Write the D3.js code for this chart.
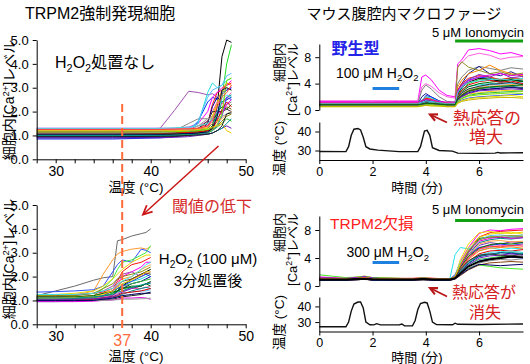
<!DOCTYPE html>
<html><head><meta charset="utf-8">
<script src="https://cdn.jsdelivr.net/npm/d3@7"></script>
<style>body{margin:0;background:#fff}svg{display:block}</style>
</head><body><svg id="c" width="530" height="364"></svg>
<script>
// ---------- DATA ----------
// Panel A: TRPM2 over-expressing cells, no H2O2 (temperature °C vs Ca level)
const tempTicks = [28,30,32,34,36,38,40,42,44,46,48,50];
const tempLabels = [30,40,50];
const noH2O2Temps = [28,36,41,42.5,44,45,46,46.5,47,47.5,48,48.5];
const noH2O2Traces = [
 [1.00,1.00,1.02,1.03,1.05,1.10,1.20,1.40,2.20,4.30,5.00,4.90],
 [1.15,1.15,1.15,1.16,1.18,1.20,1.30,1.50,1.90,2.60,4.00,4.80],
 [1.20,1.20,1.30,2.05,2.85,2.80,2.70,2.75,2.60,2.70,2.90,3.00],
 [0.85,0.85,0.90,0.95,1.05,1.60,2.40,2.60,2.50,2.80,2.90,3.00],
 [1.20,1.20,1.20,1.22,1.25,1.30,1.50,2.30,2.80,2.90,3.10,3.20],
 [1.30,1.30,1.30,1.30,1.35,1.50,2.00,2.60,2.80,3.00,3.10,3.30],
 [1.25,1.25,1.27,1.28,1.30,1.50,2.80,3.20,3.00,3.10,3.30,3.40],
 [1.10,1.10,1.10,1.12,1.15,1.20,1.30,1.80,2.40,2.90,3.20,3.10],
 [1.00,1.05,1.10,1.20,1.50,1.70,1.70,1.80,2.00,2.20,2.30,2.40],
 [0.90,0.90,0.92,0.95,1.00,1.10,1.50,2.20,2.60,2.40,2.50,2.60],
 [1.05,1.05,1.05,1.06,1.10,1.15,1.20,1.40,2.00,2.20,2.10,2.30],
 [1.20,1.20,1.20,1.20,1.20,1.25,1.40,1.80,2.30,2.80,3.00,2.90],
 [1.10,1.10,1.10,1.12,1.15,1.20,1.30,1.50,1.80,2.40,2.60,2.70],
 [1.28,1.28,1.28,1.30,1.30,1.40,1.60,2.00,2.40,2.30,2.60,2.80],
 [0.95,0.95,0.96,0.98,1.00,1.05,1.10,1.30,1.70,2.00,2.20,2.10],
 [1.15,1.15,1.15,1.15,1.20,1.30,1.60,2.00,2.00,2.00,2.10,2.00],
 [1.22,1.22,1.22,1.23,1.25,1.60,2.60,2.90,3.00,3.10,3.50,3.60],
 [1.05,1.05,1.08,1.10,1.12,1.15,1.20,1.25,1.40,1.60,1.80,1.90],
 [0.95,0.95,0.97,1.00,1.02,1.05,1.10,1.20,1.40,1.80,2.60,2.50],
 [1.10,1.10,1.10,1.10,1.12,1.15,1.20,1.30,1.60,2.10,2.40,2.20],
 [1.00,1.00,1.00,1.02,1.05,1.08,1.12,1.20,1.35,1.50,1.70,1.60],
 [1.18,1.18,1.18,1.20,1.22,1.25,1.40,1.70,2.00,1.90,2.30,2.50],
 [1.25,1.25,1.25,1.25,1.28,1.30,1.35,1.50,1.60,1.70,1.90,2.00],
 [1.30,1.30,1.30,1.32,1.35,1.40,1.50,1.70,2.00,2.50,2.70,2.60],
 [0.90,0.90,0.90,0.92,0.95,1.00,1.05,1.10,1.20,1.30,1.40,1.30],
 [1.10,1.10,1.12,1.15,1.20,1.40,1.70,1.70,1.75,1.80,1.90,2.00],
 [1.15,1.15,1.15,1.16,1.18,1.20,1.25,1.30,1.45,1.90,3.30,3.40],
 [1.05,1.05,1.05,1.06,1.08,1.10,1.15,1.30,1.80,2.90,3.00,2.90],
 [1.20,1.20,1.20,1.20,1.22,1.25,1.30,1.35,1.40,1.50,1.20,1.10],
 [1.00,1.00,1.00,1.00,1.02,1.04,1.06,1.10,1.20,1.30,1.50,1.70],
 [0.95,0.95,0.96,0.97,1.00,1.02,1.05,1.10,1.20,1.40,1.90,1.95],
 [1.25,1.25,1.25,1.26,1.28,1.30,1.40,1.60,2.20,2.60,2.80,3.10]
];
const noH2O2Colors = ["#000000","#22dd22","#a050b0","#1030ff","#ff1010","#ff00ff","#20dddd","#ff8a00","#8a8a8a","#000090","#006a00","#e6d800","#008888","#ff60b0","#8b4513","#303030","#50c0ff","#888800","#3050ff","#e00000","#30c030","#e000e0","#ffa040","#40e0e0","#7020c0","#a0a0a0","#7ae000","#000060","#f0c800","#009090","#202020","#ff4040"];

// Panel B: after 3 min 100 µM H2O2
const h2o2Temps = [28,30,32,34,35,36,36.5,37,38,39,39.5,40];
const h2o2Traces = [
 [1.20,1.40,1.60,1.85,1.95,2.00,3.50,3.55,3.70,3.80,3.85,4.00],
 [1.10,1.15,1.20,1.40,2.10,2.70,2.95,3.05,3.15,3.20,3.15,3.25],
 [1.35,1.37,1.40,1.45,1.60,2.20,2.50,2.70,2.60,3.15,3.10,3.00],
 [1.05,1.05,1.10,1.20,1.50,1.90,2.30,2.60,2.70,2.90,3.00,3.30],
 [1.15,1.20,1.25,1.30,1.35,1.50,1.80,2.20,2.50,2.60,2.70,2.80],
 [1.00,1.02,1.05,1.10,1.20,1.40,1.70,2.00,2.20,2.40,2.60,2.60],
 [1.00,1.00,1.02,1.05,1.10,1.20,1.40,1.70,1.80,1.90,2.00,2.10],
 [1.00,1.00,1.00,1.05,1.10,1.20,1.40,1.60,1.90,2.10,2.20,2.30],
 [1.20,1.25,1.30,1.40,1.60,1.90,2.10,2.30,2.60,2.80,2.90,2.90],
 [1.05,1.05,1.08,1.10,1.15,1.20,1.40,1.50,1.70,1.80,1.90,2.00],
 [1.10,1.10,1.10,1.12,1.15,1.30,1.40,1.50,1.60,1.60,1.70,1.60],
 [1.15,1.15,1.20,1.30,1.40,1.60,1.90,2.10,2.20,2.00,2.10,2.20],
 [1.05,1.05,1.05,1.10,1.15,1.20,1.30,1.40,1.50,1.50,1.55,1.60],
 [0.95,0.95,0.97,1.00,1.05,1.10,1.15,1.25,1.40,1.50,1.55,1.50],
 [1.10,1.12,1.15,1.20,1.30,1.40,1.60,1.80,1.90,2.10,2.15,2.10],
 [1.00,1.00,1.00,1.02,1.05,1.10,1.20,1.30,1.35,1.40,1.40,1.45],
 [1.20,1.20,1.20,1.30,1.50,1.70,1.90,2.00,2.10,2.20,2.30,2.40],
 [1.00,1.00,1.02,1.05,1.10,1.15,1.20,1.30,1.35,1.40,1.45,1.50],
 [1.05,1.05,1.07,1.10,1.20,1.30,1.50,1.60,1.70,1.80,1.85,1.90],
 [1.00,1.00,1.00,1.00,1.02,1.05,1.10,1.15,1.20,1.25,1.30,1.30],
 [1.10,1.10,1.10,1.15,1.20,1.40,1.50,1.60,1.80,2.00,2.10,2.00],
 [0.95,0.95,0.95,0.97,1.00,1.02,1.05,1.10,1.10,1.12,1.10,1.05],
 [1.10,1.10,1.15,1.20,1.30,1.50,1.70,1.90,2.00,2.30,2.40,2.50],
 [1.25,1.25,1.25,1.30,1.40,1.50,1.70,1.80,2.00,2.30,2.50,2.60],
 [1.00,1.00,1.00,1.00,1.00,1.02,1.03,1.05,1.05,1.07,1.08,1.10],
 [1.05,1.05,1.05,1.07,1.10,1.15,1.25,1.35,1.50,1.60,1.70,1.75],
 [1.15,1.15,1.15,1.20,1.30,1.35,1.40,1.50,1.55,1.60,1.70,1.80],
 [1.10,1.10,1.12,1.15,1.25,1.40,1.55,1.70,1.85,2.05,2.20,2.20],
 [1.00,1.00,1.00,1.00,1.05,1.10,1.15,1.20,1.25,1.30,1.30,1.35],
 [1.10,1.10,1.10,1.15,1.20,1.25,1.35,1.40,1.55,1.65,1.70,1.70]
];
const h2o2Colors = ["#6a6a6a","#ff9a30","#3050ff","#40ee40","#ff1010","#ff00ff","#20dddd","#000000","#e6d800","#000090","#006a00","#a050b0","#ff60b0","#008888","#8b4513","#50c0ff","#888800","#e00000","#30c030","#202020","#2040e0","#e000e0","#ffa040","#40e0e0","#a0a0a0","#7020c0","#007000","#f0c800","#000060","#009090"];

// Panel C: wild-type macrophages (time min vs Ca level, temperature)
const timeTicks = [0,2,4,6];
const wtTimes = [0,1,2,3,3.7,3.85,4.0,4.2,4.5,4.8,5.1,5.2,5.35,5.6,6.0,6.4,6.8,7.2,7.65];
const wtTraces = [
 [1.3,1.3,1.35,1.3,1.3,5.0,5.3,4.6,3.0,2.2,2.0,7.0,7.6,9.1,9.3,9.0,8.5,8.7,8.2],
 [1.4,1.4,1.4,1.4,1.4,3.5,4.0,3.6,2.6,2.0,1.8,6.5,7.2,8.2,8.6,8.3,7.7,8.0,8.1],
 [1.0,1.0,1.0,1.0,1.0,3.0,3.8,3.2,2.0,1.3,1.2,4.0,5.0,6.0,6.6,6.3,6.0,6.4,6.2],
 [0.9,0.9,0.9,0.9,0.9,2.0,2.5,2.0,1.4,1.0,1.0,3.0,4.0,5.5,6.6,5.5,5.2,5.8,5.0],
 [0.8,0.8,0.8,0.8,0.8,1.5,2.0,1.7,1.2,1.0,0.9,3.5,4.5,5.5,6.0,6.8,6.0,5.5,5.2],
 [0.8,0.8,0.85,0.8,0.9,1.3,1.8,1.5,1.1,0.9,0.9,6.5,7.3,6.5,6.0,5.5,5.8,5.3,5.6],
 [0.7,0.7,0.7,0.7,0.7,1.3,2.2,2.0,1.3,0.9,0.8,2.5,3.5,4.5,5.0,4.8,4.3,4.6,4.4],
 [0.8,0.8,0.8,0.8,0.8,1.2,1.6,1.4,1.0,0.8,0.8,2.2,3.0,4.0,4.6,4.9,4.6,4.8,4.5],
 [1.0,1.0,1.0,1.0,1.0,1.5,2.0,1.8,1.3,1.0,1.0,2.5,3.2,3.6,3.8,4.0,4.1,4.0,3.9],
 [1.1,1.1,1.1,1.1,1.1,1.4,1.8,1.6,1.2,1.1,1.0,3.0,4.0,4.8,5.2,5.0,4.6,4.9,4.7],
 [0.9,0.9,0.9,0.9,0.9,1.2,1.5,1.3,1.0,0.9,0.9,2.4,3.4,4.2,4.8,4.6,4.4,4.6,4.3],
 [0.8,0.8,0.8,0.8,0.8,1.1,1.4,1.2,1.0,0.8,0.8,3.0,3.8,4.6,5.4,5.0,5.6,4.9,5.1],
 [0.6,0.6,0.6,0.6,0.6,0.8,1.0,0.9,0.7,0.6,0.6,1.5,2.0,2.4,2.6,2.8,2.9,3.0,2.8],
 [0.7,0.7,0.7,0.7,0.7,0.9,1.2,1.1,0.9,0.7,0.7,2.0,2.8,3.5,4.0,4.2,4.4,4.5,4.3],
 [0.9,0.9,0.9,0.9,0.9,1.1,1.3,1.2,1.0,0.9,0.9,1.8,2.3,2.8,3.2,3.4,3.5,3.6,3.4],
 [1.0,1.0,1.0,1.0,1.0,1.2,1.4,1.3,1.1,1.0,1.0,2.0,2.6,3.1,3.5,3.8,3.9,4.0,4.1],
 [0.6,0.6,0.6,0.6,0.6,0.8,1.0,0.9,0.7,0.6,0.6,1.6,2.2,2.8,3.2,3.1,3.3,3.5,3.2],
 [0.9,0.9,0.9,0.9,0.9,1.0,1.2,1.1,1.0,0.9,0.9,2.2,3.0,3.8,4.3,4.5,4.2,4.4,4.0],
 [0.7,0.7,0.7,0.7,0.7,0.8,0.9,0.9,0.8,0.7,0.7,1.4,1.8,2.2,2.5,2.6,2.7,2.8,2.9],
 [0.6,0.6,0.6,0.6,0.6,0.7,0.8,0.8,0.7,0.6,0.6,1.2,1.5,1.8,2.0,2.1,2.2,2.3,2.4],
 [1.2,1.2,1.2,1.2,1.2,1.4,1.6,1.5,1.3,1.2,1.2,2.8,3.6,4.4,5.0,5.3,5.5,5.2,5.4],
 [0.7,0.7,0.7,0.7,0.7,0.8,1.0,0.9,0.8,0.7,0.7,1.8,2.4,3.0,3.4,3.6,3.7,3.9,3.6],
 [0.8,0.8,0.8,0.8,0.8,1.0,1.1,1.0,0.9,0.8,0.8,1.6,2.1,2.6,3.0,3.2,3.3,3.4,3.3],
 [0.5,0.5,0.5,0.5,0.5,0.6,0.7,0.7,0.6,0.5,0.5,1.1,1.4,1.7,1.9,2.0,2.1,2.2,2.0],
 [0.9,0.9,0.9,0.9,0.9,1.0,1.2,1.1,1.0,0.9,0.9,2.6,3.5,4.2,4.4,4.6,4.7,4.5,4.8],
 [0.8,0.8,0.8,0.8,0.8,0.9,1.1,1.0,0.9,0.8,0.8,1.9,2.6,3.2,3.6,3.9,4.0,4.2,3.8],
 [0.7,0.7,0.7,0.7,0.7,0.8,0.9,0.9,0.8,0.7,0.7,1.5,2.0,2.5,2.9,3.0,3.1,3.2,3.1],
 [0.6,0.6,0.6,0.6,0.6,0.7,0.8,0.8,0.7,0.6,0.6,1.3,1.7,2.1,2.3,2.4,2.5,2.6,2.5],
 [0.8,0.8,0.8,0.8,0.8,0.9,1.0,1.0,0.9,0.8,0.8,1.7,2.3,2.9,3.3,3.5,3.6,3.7,3.8],
 [0.5,0.5,0.5,0.5,0.5,0.6,0.7,0.6,0.6,0.5,0.5,1.0,1.3,1.5,1.7,1.8,1.9,1.9,1.8]
];
const wtColors = ["#ff00ff","#ff60e0","#808080","#1a1a90","#ff8a00","#909020","#1030ff","#22cc22","#20dddd","#ff1010","#000000","#8030c0","#f0d000","#006a00","#008888","#50c0ff","#8b4513","#e00000","#30c030","#3050ff","#e000e0","#ffa040","#000090","#e6e000","#40e0e0","#303030","#7020c0","#7ae000","#007000","#c8b400"];
const wtTempTimes = [0,1.0,1.1,1.2,1.3,1.45,1.55,1.65,1.75,1.9,2.2,2.6,3.0,3.7,3.8,3.95,4.05,4.15,4.25,4.5,5.0,5.2,6.0,6.6,6.7,6.8,7.65];
const wtTemps = [29.5,29.4,32,38,41.2,41.6,40.8,37,32,30.8,30.2,29.8,29.4,29.4,32,40.2,40.6,38,31.5,30,29.7,28.6,28.5,28.6,29.0,28.7,28.8];

// Panel D: TRPM2-deficient macrophages
const koTimes = [0,0.5,1,1.5,1.7,2,3,3.5,3.9,4.3,4.9,5.1,5.3,5.6,6.0,6.4,6.8,7.2,7.65];
const koTraces = [
 [1.3,1.2,1.1,1.2,1.3,1.1,1.0,1.0,1.1,1.0,1.0,1.5,3.5,5.5,7.5,8.0,7.9,8.1,8.2],
 [1.2,1.1,1.1,1.3,1.4,1.2,1.1,1.1,1.2,1.1,1.0,1.4,3.0,5.0,7.0,7.6,7.8,7.9,8.0],
 [1.6,1.4,1.2,1.3,1.4,1.2,1.1,1.0,1.2,1.0,1.0,1.3,2.0,2.6,3.0,2.8,2.6,2.5,2.4],
 [1.0,1.0,1.0,1.1,1.2,1.0,1.0,1.0,1.1,1.0,1.0,4.5,5.5,5.3,5.0,5.5,5.2,5.4,5.3],
 [1.1,1.0,1.0,1.2,1.3,1.1,1.0,1.0,1.1,1.0,1.0,1.6,3.2,4.5,5.5,5.8,6.0,5.8,6.0],
 [1.0,1.0,1.0,1.1,1.2,1.0,1.0,1.0,1.1,1.0,1.0,1.4,3.8,6.0,7.6,7.8,7.5,7.7,7.4],
 [0.9,0.9,0.9,1.0,1.1,0.9,0.9,0.9,1.0,0.9,0.9,1.3,2.5,4.8,6.8,7.0,6.9,7.0,7.0],
 [1.0,1.0,1.0,1.1,1.2,1.0,1.0,0.9,1.0,0.9,0.9,1.2,2.2,3.8,5.0,5.4,5.5,5.6,5.4],
 [1.0,1.0,0.9,1.0,1.1,1.0,0.9,0.9,1.0,0.9,0.9,1.2,2.0,3.2,4.2,4.5,4.8,4.6,4.7],
 [1.1,1.1,1.0,1.2,1.3,1.1,1.0,1.0,1.1,1.0,1.0,1.3,2.6,4.2,5.8,6.2,6.0,6.3,6.2],
 [0.9,0.9,0.9,1.0,1.1,0.9,0.9,0.9,1.0,0.9,0.9,1.1,1.7,2.5,3.3,3.6,3.8,3.7,3.9],
 [1.2,1.1,1.0,1.2,1.3,1.1,1.0,1.0,1.1,1.0,1.0,1.3,2.8,4.5,6.2,6.6,6.8,6.7,6.9],
 [1.0,1.0,1.0,1.1,1.2,1.0,1.0,1.0,1.1,1.0,1.0,1.2,2.4,3.9,5.2,5.6,5.8,5.7,5.9],
 [0.8,0.8,0.8,0.9,1.0,0.8,0.8,0.8,0.9,0.8,0.8,1.0,1.5,2.3,3.0,3.3,3.4,3.5,3.4],
 [1.0,1.0,1.0,1.1,1.2,1.0,1.0,1.0,1.1,1.0,1.0,1.5,3.4,5.2,6.6,7.2,7.3,7.1,7.3],
 [1.1,1.0,1.0,1.1,1.2,1.0,1.0,1.0,1.1,1.0,1.0,1.2,2.2,3.5,4.6,5.0,5.1,5.0,5.2],
 [0.9,0.9,0.9,1.0,1.1,0.9,0.9,0.9,1.0,0.9,0.9,1.1,2.0,3.0,3.8,4.0,4.2,4.3,4.1],
 [1.2,1.1,1.1,1.2,1.3,1.1,1.0,1.0,1.1,1.0,1.0,1.4,2.9,4.8,6.4,6.8,7.0,6.8,6.9],
 [0.9,0.9,0.9,1.0,1.1,0.9,0.9,0.9,1.0,0.9,0.9,1.1,1.8,2.8,3.6,3.9,4.0,4.1,4.0],
 [1.0,1.0,1.0,1.1,1.2,1.0,1.0,1.0,1.1,1.0,1.0,1.3,2.6,4.4,6.0,6.4,6.5,6.3,6.4],
 [0.9,0.9,0.9,1.0,1.1,0.9,0.9,0.9,1.0,0.9,0.9,1.1,1.9,3.0,4.0,4.3,4.4,4.6,4.4],
 [1.1,1.0,1.0,1.1,1.2,1.0,1.0,1.0,1.1,1.0,1.0,1.3,2.3,3.4,4.4,4.8,4.9,5.0,4.8],
 [1.0,1.0,1.0,1.1,1.2,1.0,1.0,1.0,1.1,1.0,1.0,1.4,3.1,5.0,6.6,7.0,7.1,7.2,7.1],
 [0.8,0.8,0.8,0.9,1.0,0.8,0.8,0.8,0.9,0.8,0.8,1.0,1.6,2.4,3.1,3.0,2.9,3.0,3.1],
 [1.0,1.0,1.0,1.1,1.2,1.0,1.0,1.0,1.1,1.0,1.0,1.2,2.7,4.2,5.4,5.9,6.1,6.0,6.2],
 [1.1,1.0,1.0,1.1,1.2,1.0,1.0,1.0,1.1,1.0,1.0,1.3,3.2,5.4,7.0,7.4,7.6,7.5,7.7],
 [0.9,0.9,0.9,1.0,1.1,0.9,0.9,0.9,1.0,0.9,0.9,1.1,2.1,3.3,4.3,4.5,4.7,4.8,4.6],
 [1.0,1.0,1.0,1.1,1.2,1.0,1.0,1.0,1.1,1.0,1.0,1.2,2.5,4.0,5.3,5.7,5.6,5.8,5.7],
 [1.0,1.0,1.0,1.1,1.1,1.0,1.0,1.0,1.0,1.0,1.0,1.2,2.4,3.6,4.4,4.6,4.4,4.3,4.5],
 [0.9,0.9,0.9,1.0,1.0,0.95,0.9,0.9,1.0,0.9,0.9,1.1,1.8,2.8,3.5,3.8,4.0,4.2,4.1]
];
const koColors = ["#ff00ff","#ff1010","#44ee22","#20e0f0","#1030ff","#f0e000","#006a00","#ff8a00","#000090","#8030c0","#8a8a8a","#008888","#ff60b0","#8b4513","#50c0ff","#e00000","#30c030","#e000e0","#3050ff","#ffa040","#7020c0","#40e0e0","#909020","#000060","#007000","#e6d800","#009090","#ff4040","#303030","#000000"];
const koTempTimes = [0,1.0,1.1,1.2,1.3,1.45,1.55,1.65,1.75,1.9,2.05,2.15,2.3,3.0,3.1,3.2,3.5,3.6,3.7,3.8,3.95,4.05,4.15,4.25,4.4,5.0,5.1,5.2,6.0,7.65];
const koTemps = [27,27,30,37,41.5,42.8,42.8,39,30,28.3,28.2,29,28.2,28.2,28.8,27.6,27.6,31,38,41.8,42.6,42.2,37,30,28.4,28.3,29.3,28.6,28.5,28.8];

// ---------- DRAW ----------
const svg = d3.select("#c");
const LAT = '"Liberation Sans", Arial, sans-serif';
const CJK = '"Liberation Sans", Arial, "Noto Sans CJK JP", sans-serif';

const xA = d3.scaleLinear([28,50],[36.7,245.7]);
const yA = d3.scaleLinear([0,5],[159.3,40]);
const yB = d3.scaleLinear([0,5],[324.3,205]);
const xT = d3.scaleLinear([0,7.65],[319.3,523]);
const yC = d3.scaleLinear([0,10],[110,44]);
const yCt = d3.scaleLinear([25,45],[160,122]);
const yD = d3.scaleLinear([0,10],[286,216]);
const yDt = d3.scaleLinear([24,46],[331.5,297]);

function traces(xs, rows, colors, xs_, ys_, w) {
  const line = d3.line().x((d,i)=>xs_(xs[i])).y(d=>ys_(d));
  svg.append("g").selectAll("path").data(rows).join("path")
    .attr("d", line).attr("fill","none")
    .attr("stroke",(d,i)=>colors[i % colors.length])
    .attr("stroke-width", w)
    .attr("stroke-linejoin","round");
}
function single(xs, ys, xs_, ys_) {
  svg.append("path").datum(ys)
    .attr("d", d3.line().x((d,i)=>xs_(xs[i])).y(d=>ys_(d)))
    .attr("fill","none").attr("stroke","#111").attr("stroke-width",1.4);
}
function styleAxis(g, fs) {
  g.selectAll("text").attr("font-size",fs).attr("font-family",LAT).attr("fill","#000");
  g.select(".domain").attr("stroke","#000").attr("stroke-width",1);
  g.selectAll(".tick line").attr("stroke","#000");
}

traces(noH2O2Temps, noH2O2Traces, noH2O2Colors, xA, yA, 1);
traces(h2o2Temps, h2o2Traces, h2o2Colors, xA, yB, 1);
traces(wtTimes, wtTraces, wtColors, xT, yC, 1);
traces(koTimes, koTraces, koColors, xT, yD, 1);
svg.append("path").datum(koTraces[koTraces.length-1])
  .attr("d", d3.line().x((d,i)=>xT(koTimes[i])).y(d=>yD(d)))
  .attr("fill","none").attr("stroke","#000").attr("stroke-width",1.8);
single(wtTempTimes, wtTemps, xT, yCt);
single(koTempTimes, koTemps, xT, yDt);

// left axes
const fmtT = d => tempLabels.includes(d) ? d : "";
[yA, yB].forEach(ys => {
  const gx = svg.append("g").attr("transform",`translate(0,${ys(0)})`)
    .call(d3.axisBottom(xA).tickValues(tempTicks).tickFormat(fmtT).tickSize(4).tickPadding(3).tickSizeOuter(0));
  styleAxis(gx, 14);
  const gy = svg.append("g").attr("transform",`translate(${xA(28)},0)`)
    .call(d3.axisLeft(ys).tickValues([0,1,2,3,4,5]).tickSize(4).tickPadding(4).tickSizeOuter(0));
  styleAxis(gy, 13);
});
// right axes
[[yC,yCt],[yD,yDt]].forEach(([yc,yt]) => {
  const g1 = svg.append("g").attr("transform",`translate(${xT(0)},0)`)
    .call(d3.axisLeft(yc).tickValues([0,4,8]).tickSize(4).tickPadding(4).tickSizeOuter(0));
  styleAxis(g1, 12.5);
  const g2 = svg.append("g").attr("transform",`translate(${xT(0)},0)`)
    .call(d3.axisLeft(yt).tickValues([30,40]).tickSize(4).tickPadding(4).tickSizeOuter(0));
  styleAxis(g2, 12.5);
  const g3 = svg.append("g").attr("transform",`translate(0,${yt.range()[0]})`)
    .call(d3.axisBottom(xT).tickValues(timeTicks).tickSize(4).tickPadding(3).tickSizeOuter(0));
  styleAxis(g3, 12.5);
});

// 37 °C dashed line
svg.append("line").attr("x1",xA(37)).attr("x2",xA(37)).attr("y1",104).attr("y2",328)
  .attr("stroke","#ff6a3a").attr("stroke-width",2).attr("stroke-dasharray","8,4");
svg.append("text").attr("x",xA(37)).attr("y",345.5).attr("text-anchor","middle")
  .attr("font-family",LAT).attr("font-size",16).attr("fill","#ff6a3a").text("37");

// ---------- TEXT ----------
function rich(x, y, parts, fs, opts={}) {
  const t = svg.append("text").attr("x",x).attr("y",y).attr("font-size",fs)
    .attr("font-family",CJK).attr("fill",opts.fill||"#000")
    .attr("text-anchor",opts.anchor||"start");
  if (opts.rotate) t.attr("transform",`rotate(-90,${x},${y})`);
  if (opts.weight) t.attr("font-weight",opts.weight);
  let shift = 0;
  parts.forEach(p => {
    const [s,m] = Array.isArray(p) ? p : [p,""];
    const target = m==="sub" ? fs*0.28 : m==="sup" ? -fs*0.38 : 0;
    const ts = t.append("tspan").text(s).attr("dy", target - shift);
    if (m) ts.attr("font-size", fs*0.68);
    shift = target;
  });
  return t;
}
rich(25,19,["TRPM2強制発現細胞"],16);
rich(306.5,19,["マウス腹腔内マクロファージ"],15);
rich(55,68,["H",["2","sub"],"O",["2","sub"],"処置なし"],16);
rich(172,211.5,["閾値の低下"],16,{fill:"#d42a2a"});
rich(208,264,["H",["2","sub"],"O",["2","sub"]," (100 μM)"],15,{anchor:"middle"});
rich(208,286,["3分処置後"],15,{anchor:"middle"});
rich(136,192,["温度 (°C)"],13.5,{anchor:"middle"});
rich(136,360.5,["温度 (°C)"],13.5,{anchor:"middle"});
rich(14,100,["細胞内[Ca",["2+","sup"],"]レベル"],14,{anchor:"middle",rotate:true});
rich(14,259,["細胞内[Ca",["2+","sup"],"]レベル"],14,{anchor:"middle",rotate:true});

// right panel texts
rich(331.5,54,["野生型"],16,{fill:"#2424e8",weight:"bold"});
rich(336,77.5,["100 μM H",["2","sub"],"O",["2","sub"]],14);
rich(524,37,["5 μM Ionomycin"],13,{anchor:"end"});
rich(487,124,["熱応答の"],17,{fill:"#d42020",anchor:"middle"});
rich(486,143,["増大"],17,{fill:"#d42020",anchor:"middle"});
rich(330,228.5,["TRPM2欠損"],15.5,{fill:"#ff2020"});
rich(524,214,["5 μM Ionomycin"],13,{anchor:"end"});
rich(346.5,257,["300 μM H",["2","sub"],"O",["2","sub"]],14);
rich(484,297.5,["熱応答が"],16,{fill:"#d42020",anchor:"middle"});
rich(485,317.5,["消失"],16,{fill:"#d42020",anchor:"middle"});
rich(417,191.5,["時間 (分)"],13,{anchor:"middle"});
rich(417,361.5,["時間 (分)"],13,{anchor:"middle"});
[[43,121],[213,295]].forEach(([top,ttop]) => {
  rich(284,top,["細胞内"],13,{anchor:"end",rotate:true});
  rich(297,top,["[Ca",["2+","sup"],"]レベル"],13,{anchor:"end",rotate:true});
  rich(284,ttop,["温度 (°C)"],13.5,{anchor:"end",rotate:true});
});

// bars
const bars = [[2,3,yC(0)-21.5,"#2080e0"],[2,3,yD(0)-23.5,"#2080e0"],[5.1,7.65,41,"#12a012"],[5.1,7.65,220.5,"#12a012"]];
bars.forEach(([a,b,y,c]) => svg.append("line").attr("x1",xT(a)).attr("x2",xT(b)).attr("y1",y).attr("y2",y)
  .attr("stroke",c).attr("stroke-width",3));

// arrows
function arrow(x1,y1,x2,y2,col,w,len) {
  svg.append("line").attr("x1",x1).attr("y1",y1).attr("x2",x2).attr("y2",y2)
    .attr("stroke",col).attr("stroke-width",w);
  const a = Math.atan2(y2-y1,x2-x1), s = 0.45;
  const p1 = [x2-len*Math.cos(a-s), y2-len*Math.sin(a-s)];
  const p2 = [x2-len*Math.cos(a+s), y2-len*Math.sin(a+s)];
  svg.append("path").attr("d",`M${p1[0]},${p1[1]}L${x2},${y2}L${p2[0]},${p2[1]}`).attr("fill","none")
    .attr("stroke",col).attr("stroke-width",w+0.3).attr("stroke-linejoin","miter");
}
arrow(218.5,146,143,214.5,"#cc1515",1.5,10);
arrow(447,122.5,430,114.5,"#b81818",1.8,8);
arrow(447,296.5,430,288,"#b81818",1.8,8);
</script></body></html>
